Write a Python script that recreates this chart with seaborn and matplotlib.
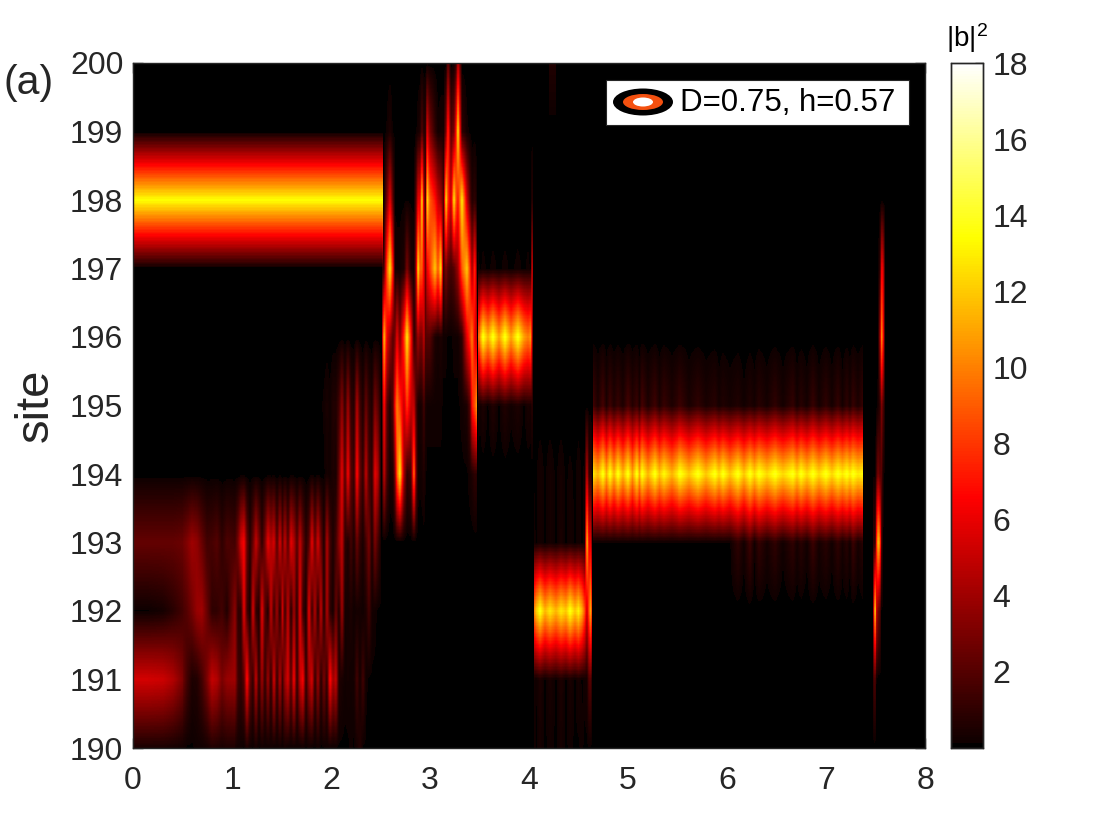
import numpy as np
import pandas as pd
import matplotlib
matplotlib.use('Agg')
import matplotlib.pyplot as plt
from matplotlib.colors import ListedColormap
from matplotlib.patches import Ellipse, Rectangle
import seaborn as sns

site_labels = [190, 191, 192, 193, 194, 195, 196, 197, 198, 199, 200]
time_labels = [0, 1, 2, 3, 4, 5, 6, 7, 8]
cbar_labels = [2, 4, 6, 8, 10, 12, 14, 16, 18]

# |b|^2, one list per site, at the time knots of each stretch
band198_t = [0.0, 2.53]
band198_198 = [13.5, 13.5]

start_t = [0, .15, .3, .4, .5, .55, .6, .65, .7, .75, .8, .85, .9, .95, 1.03]
start_190 = [.4, .4, .4, .3, .2, .1, .1, .2, .2, .3, .6, .5, .4, .5, .5]
start_191 = [5.4, 5.4, 5.2, 4.5, 3, 1.5, .5, .6, 1.5, 3, 5, 4.5, 3, 3.8, 4]
start_192 = [.1, .1, .3, .8, 1.5, 2, 2.8, 3.8, 4, 2.5, 1, 1, 1.5, .6, 3.5]
start_193 = [2.4, 2.4, 2.4, 2.4, 2.6, 3.2, 4, 3.6, 2.5, 1.5, 1.6, 2, 1, 1.8, 1.5]

stripes_t = [1.03, 1.06, 1.09, 1.12, 1.15, 1.18, 1.21, 1.24, 1.27, 1.30,
             1.33, 1.36, 1.39, 1.42, 1.45, 1.48, 1.51, 1.54, 1.57, 1.60,
             1.63, 1.66, 1.69, 1.72, 1.75, 1.78, 1.81, 1.84, 1.87, 1.90,
             1.93, 1.96, 1.99, 2.02, 2.05, 2.08, 2.11, 2.14, 2.17, 2.20,
             2.23, 2.26, 2.29, 2.32, 2.35, 2.38, 2.41, 2.44, 2.47, 2.50]
stripes_190 = [.3, .2, .2, .1, .5, .2, .1, .3, .1, .2,
               .2, .1, .3, .1, .2, .2, .1, .3, .1, .2,
               .1, .2, .1, .2, .1, .2, .1, .1, .2, .1,
               .1, .2, .1, .1, .1, .1, .1, .1, .1, .2,
               .1, .3, .7, .1, .1, .1, .1, .1, .1, .1]
stripes_191 = [4, 1.5, 1, 2, 7, 2.5, 1, 5, .8, 4,
               1, 4, .8, 5.5, 1, 4.5, 1, 4, 5.5, 2,
               6.5, 1, 5, 6.5, 1, 4, 5.5, 1, 4, .7,
               3, 1, 7, 4, 5, .6, .4, .2, .3, .2,
               .3, 1.5, .3, 1.5, .2, .1, .1, .1, .1, .1]
stripes_192 = [3.5, 1, 1, 6, 1.5, .3, 5.5, 1, .5, 6,
               2, .5, 5, 1.2, 4, .6, 6, 1.2, 5, .6,
               4, .8, 6, 1.2, .4, 6, 1.2, 4.5, .6, 5,
               .5, 4.5, 1, .3, 2.5, .5, 4, .3, .3, .5,
               .2, .3, .3, .2, .5, 1.5, .3, .2, .1, .1]
stripes_193 = [1.5, 3, 5.5, 6.5, 2.5, .8, 2.5, 5, 3, 1,
               3, 6, 4.5, 5.5, 2, 5.5, 2, 5, 2, 6,
               4.5, 2, 5, 2.5, .8, 2, 6, 2.5, 5.5, 2.5,
               .5, 4.5, 1.5, .5, 1.5, 3.5, 5, 1, .5, 1.5,
               .5, 2.5, 1, .4, 1.5, 3, .5, 3, 1.5, .3]
stripes_194 = [0, 0, 0, 0, 0, 0, 0, 0, 0, 0,
               0, 0, 0, 0, 0, 0, 0, 0, 0, 0,
               0, 0, 0, 0, 0, 0, .1, 0, .1, 0,
               .1, .3, .2, .5, .4, 2.5, 6, 2, 6.5, 2,
               1.2, 7, 2.5, 1, 5, 1.5, 1, 6, 4.5, .3]
stripes_195 = [0, 0, 0, 0, 0, 0, 0, 0, 0, 0,
               0, 0, 0, 0, 0, 0, 0, 0, 0, 0,
               0, 0, 0, 0, 0, 0, 0, 0, 0, .1,
               .2, .4, .2, .6, .6, 1.5, 3.5, 1, 4, 1,
               .7, 4.5, 1.5, .5, 2.5, 1, .5, 3, 2, .3]

hop_t = [2.52, 2.54, 2.57, 2.60, 2.63, 2.65, 2.67, 2.70, 2.74, 2.77, 2.81, 2.84,
         2.86, 2.88, 2.90, 2.92, 2.94, 2.955, 2.97, 3.00, 3.05, 3.08, 3.11, 3.135,
         3.16, 3.18, 3.21, 3.24, 3.26, 3.28, 3.32, 3.37, 3.40, 3.42, 3.45, 3.47]
hop_194 = [.5, 5, 1.5, .3, .5, 3, 9, 13, 4, 1, 1.5, 10,
           3, .3, .2, .3, .6, .2, .1, .1, .1, .1, .1, .1,
           .1, .1, .1, .1, .1, .1, .1, .1, .3, .5, 1, .8]
hop_195 = [1, 7, 2, .6, 2, 7, 10, 8, 5, 8, 5, 5,
           2, .4, .3, .5, 1.5, .5, .2, .2, .2, .2, .2, .1,
           .1, .1, .1, .1, .1, .1, .2, .5, 2, 7, 9, 11]
hop_196 = [3, 12, 6, 4, 2, 3, 6, 3, 8, 13, 7, 1,
           2, 4, 3, 3, 5, 2, 2, 2, .5, .3, .5, .2,
           .2, .1, .1, .2, .2, .2, 1, 6, 8, 10, 6, 5]
hop_197 = [.5, 1.5, 9, 13, 7, .3, .2, .2, .5, 3, .5, .3,
           4, 13, 9, 9, 6, 3, 6, 8, 12, 9, 13, 1.5,
           3, 2, 1.5, 2, 3, 4, 9, 12, 8, 4, 8, 2]
hop_198 = [.1, .2, 3, 6, 2, .1, .1, .1, .1, .1, .1, .1,
           2, 6, 6, 13, 4, 2, 13, 9, 7, 5, 4, 2,
           13, 8, 5, 13, 9, 7, 13, 5, 2, .6, 1, .2]
hop_199 = [0, 0, .2, .5, .1, .1, .1, .1, 0, 0, 0, 0,
           .1, .3, .5, 2, .6, 1, 6, 3, 1, .2, .3, .3,
           3, 8, 2, 3, 7, 13, 1, .2, .1, 0, 0, 0]
hop_200 = [0, 0, 0, 0, 0, 0, 0, 0, 0, 0, 0, 0,
           0, 0, 0, 0, 0, 0, 0, 0, 0, 0, 0, 0,
           0, 2.5, 0, .2, 1, 5, 0, 0, 0, 0, 0, 0]

band196_t = [3.48, 3.51, 3.54, 3.59, 3.64, 3.70, 3.76, 3.82, 3.89, 3.95, 3.99, 4.02, 4.03, 4.045]
band196_195 = [.3, .2, .5, .1, .6, .1, .6, .2, .5, .1, .4, .3, 1, 0]
band196_196 = [9, 11, 14, 11.5, 14, 11, 14, 11, 14, 11, 10, 11, 5, 0]
band196_197 = [.2, .1, .2, .1, .2, .1, .2, .1, .2, .1, .2, .1, 7, 0]
band196_198 = [0, 0, 0, 0, 0, 0, 0, 0, 0, 0, 0, 0, 1, 0]

top_t = [4.2, 4.27]
top_200 = [.6, .6]

band192_t = [4.05, 4.07, 4.11, 4.16, 4.21, 4.27, 4.32, 4.37, 4.41, 4.46, 4.50, 4.54, 4.565, 4.59, 4.61, 4.625, 4.645]
band192_190 = [.3, .1, .3, .1, .2, .1, .3, .1, .2, .1, .1, .2, .1, .1, .1, .1, .1]
band192_191 = [.3, .1, .5, .1, .4, .1, .5, .1, .4, .1, .4, .1, .2, .3, 2, 2, .4]
band192_192 = [10, 12, 14, 11.5, 13, 11.5, 13, 12, 14, 12, 13.5, 11.5, 9, 5, 9, 11, 7]
band192_193 = [.3, .1, .3, .1, .3, .1, .4, .1, .3, .1, .3, .1, .3, 12, 6, 6, 2]
band192_194 = [.1, .1, .3, .1, .3, .1, .3, .1, .2, .1, .3, .1, .2, 5, 1, 1, .2]

band194_t = [4.65, 4.70, 4.75, 4.785, 4.82, 4.86, 4.90, 4.95, 5.00, 5.045,
             5.09, 5.115, 5.14, 5.20, 5.27, 5.315, 5.36, 5.44, 5.53, 5.62,
             5.71, 5.79, 5.88, 5.92, 5.96, 6.03, 6.11, 6.17, 6.23, 6.275,
             6.32, 6.40, 6.48, 6.57, 6.67, 6.71, 6.75, 6.81, 6.87, 6.93,
             7.0, 7.06, 7.12, 7.165, 7.21, 7.24, 7.27, 7.32, 7.37]
band194_193 = [.1, .1, .1, .1, .1, .1, .1, .1, .1, .1,
               .1, .1, .1, .1, .1, .1, .1, .1, .1, .1,
               .1, .1, .1, .1, .1, .1, 1, .2, 1.4, .2,
               1.1, .3, 1, .2, 1, .3, .8, .2, 1.3, .3,
               .8, .2, 1, .3, .8, .2, 1.3, .3, .8]
band194_194 = [13, 11.5, 14, 11.5, 14, 11.5, 14, 11.5, 14, 11,
               14, 11.5, 14, 11.5, 14, 12, 13.5, 11.5, 14, 12,
               14, 12, 14, 12.5, 14, 12, 14, 12, 14, 12.5,
               14, 12.5, 14, 12.5, 14, 12.5, 14, 12.5, 14, 12.5,
               14, 12.5, 14, 13, 14, 13, 14, 13, 13.5]
band194_195 = [1.5, .5, 1.6, .5, 1.4, .6, 1.2, .5, 1.6, .7,
               1.3, .5, 1.6, .5, 1.4, .5, 1.2, .5, 1.3, .4,
               1, .4, .8, .3, .6, .3, .6, .2, .6, .3,
               .8, .3, 1, .3, 1.1, .3, .8, .3, 1.2, .3,
               1, .3, 1.1, .3, 1, .4, 1.2, .5, 1.2]

last_t = [7.47, 7.49, 7.51, 7.53, 7.55, 7.565, 7.58, 7.60]
last_191 = [1, 2, .2, 0, 0, 0, 0, 0]
last_192 = [2, 13, 6, 3, 2, .1, .1, 0]
last_193 = [1, 1, 6, 12, 10, 2, .1, 0]
last_194 = [.1, .1, 1, 3, 2, 2, .5, 0]
last_195 = [0, 0, 0, .3, 1, 3, 2, .3]
last_196 = [0, 0, 0, 0, 4, 10, 8, .3]
last_197 = [0, 0, 0, 0, 1, 6, 6, .5]

stretches = [
    (band198_t, {198: band198_198}),
    (start_t, {190: start_190, 191: start_191, 192: start_192, 193: start_193}),
    (stripes_t, {190: stripes_190, 191: stripes_191, 192: stripes_192, 193: stripes_193,
                 194: stripes_194, 195: stripes_195}),
    (hop_t, {194: hop_194, 195: hop_195, 196: hop_196, 197: hop_197, 198: hop_198,
             199: hop_199, 200: hop_200}),
    (band196_t, {195: band196_195, 196: band196_196, 197: band196_197, 198: band196_198}),
    (top_t, {200: top_200}),
    (band192_t, {190: band192_190, 191: band192_191, 192: band192_192, 193: band192_193,
                 194: band192_194}),
    (band194_t, {193: band194_193, 194: band194_194, 195: band194_195}),
    (last_t, {191: last_191, 192: last_192, 193: last_193, 194: last_194, 195: last_195,
              196: last_196, 197: last_197}),
]

# smooth shading like matlab's "shading interp", done on the values before the colormap
dt = 0.01
ds = 0.02
t_grid = (np.arange(800) + 0.5) * dt
s_grid = 190 + (np.arange(500) + 0.5) * ds
coarse = np.zeros((len(site_labels), len(t_grid)))
for times, rows in stretches:
    for site, row in rows.items():
        coarse[site - 190] += np.interp(t_grid, times, row, left=0, right=0)
shaded = np.array([np.interp(s_grid, site_labels, coarse[:, j]) for j in range(len(t_grid))]).T
df = pd.DataFrame(shaded[::-1], index=s_grid[::-1], columns=t_grid)

sns.set_theme(style='white')
plt.rcParams['font.family'] = ['Liberation Sans', 'DejaVu Sans']
ink = '#262626'

# hot, but with a truly black floor
hot_colours = plt.get_cmap('hot')(np.arange(256))
hot_colours[:2] = [0, 0, 0, 1]
hot_black = ListedColormap(hot_colours)

fig = plt.figure(figsize=(11.2, 8.4), dpi=100)
ax = fig.add_axes([133 / 1120, 92 / 840, 792 / 1120, 685 / 840])
cax = fig.add_axes([951 / 1120, 92 / 840, 32 / 1120, 685 / 840])

sns.heatmap(df, ax=ax, cbar_ax=cax, cmap=hot_black, vmin=0, vmax=18,
            xticklabels=False, yticklabels=False,
            cbar_kws={'ticks': cbar_labels})

ax.set_xticks([t / dt for t in time_labels])
ax.set_xticklabels(time_labels, rotation=0)
ax.set_yticks([(200 - s) / ds for s in site_labels])
ax.set_yticklabels(site_labels, rotation=0)
ax.tick_params(direction='in', length=7, width=1, color=ink, labelcolor=ink,
               labelsize=23, top=True, right=True, bottom=True, left=True)
ax.tick_params(axis='y', pad=7)
ax.tick_params(axis='x', pad=13)
ax.set_ylabel('site', fontsize=34, color=ink)
ax.yaxis.set_label_coords(-75 / 792, 0.5)
ax.set_xlabel('')
for spine in ax.spines.values():
    spine.set_visible(True)
    spine.set_color(ink)
    spine.set_linewidth(1)

cax.tick_params(direction='in', length=6, width=1, color=ink, labelcolor=ink, labelsize=23,
                right=True, pad=7)
for spine in cax.spines.values():
    spine.set_visible(True)
    spine.set_color(ink)
    spine.set_linewidth(1)

# legend box with the ringed marker
fig.add_artist(Rectangle((606 / 1120, 1 - 125 / 840), 303 / 1120, 45 / 840, transform=fig.transFigure,
                         facecolor='white', edgecolor=ink, linewidth=0.8))
for w, h, colour in [(60, 27, 'black'), (40, 16, '#f4500f'), (20, 9, 'white')]:
    fig.add_artist(Ellipse((643 / 1120, 1 - 102 / 840), w / 1120, h / 840, transform=fig.transFigure,
                           facecolor=colour, edgecolor='none'))
fig.text(680 / 1120, 1 - 103 / 840, 'D=0.75, h=0.57', fontsize=22.5, color='black', va='center', ha='left')

fig.text(4 / 1120, 1 - 83 / 840, '(a)', fontsize=29.5, color=ink, va='center', ha='left')
fig.text(946 / 1120, 1 - 38 / 840, r'$\mathregular{|b|^{2}}$', fontsize=20, color='black', va='center', ha='left')

fig.savefig('out.png', dpi=100, facecolor='white')
